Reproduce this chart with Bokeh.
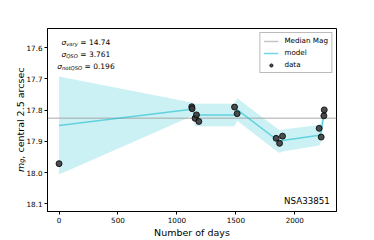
import math
from bokeh.plotting import figure
from bokeh.models import Range1d, FixedTicker, Label
from bokeh.embed import file_html
from bokeh.resources import INLINE

# ---- data ----
days = [0, 1126, 1129, 1154, 1166, 1186, 1489, 1511, 1842, 1871, 1896, 2207, 2224, 2247, 2250]
mags = [17.971, 17.789, 17.795, 17.826, 17.815, 17.836, 17.790, 17.811, 17.890, 17.906,
        17.883, 17.858, 17.886, 17.818, 17.799]
model_mean = [17.849, 17.797, 17.798, 17.815, 17.815, 17.815, 17.815, 17.798, 17.893, 17.900,
              17.897, 17.880, 17.870, 17.812, 17.800]
model_err = [0.157, 0.022, 0.022, 0.036, 0.036, 0.036, 0.036, 0.036, 0.037, 0.037,
             0.035, 0.033, 0.030, 0.020, 0.020]
median_mag = 17.826
xticks = [0, 500, 1000, 1500, 2000]
yticks = [17.6, 17.7, 17.8, 17.9, 18.0, 18.1]
sigma_names = ["vary", "QSO", "notQSO"]
sigma_values = ["14.74", "3.761", "0.196"]
object_name = "NSA33851"

FONT = "DejaVu Sans"
X0, X1 = -98, 2354
Y0, Y1 = 18.1241, 17.5386  # bottom, top (inverted axis)

W, H = 374, 240
ML, MR, MT, MB = 47, 38, 28, 27

p = figure(width=W, height=H, x_range=Range1d(X0, X1), y_range=Range1d(Y0, Y1),
           output_backend="svg", toolbar_location=None,
           min_border_left=ML, min_border_right=MR, min_border_top=MT, min_border_bottom=MB)

fw = W - ML - MR
fh = H - MT - MB


def px(xp):  # canvas x -> data x
    return X0 + (xp - ML) / fw * (X1 - X0)


def py(yp):  # canvas y -> data y
    return Y1 + (yp - MT) / fh * (Y0 - Y1)


lo = [m - e for m, e in zip(model_mean, model_err)]
hi = [m + e for m, e in zip(model_mean, model_err)]

p.varea(x=days, y1=lo, y2=hi, fill_color="#17becf", fill_alpha=0.22)

p.line(x=[p.x_range.start, p.x_range.end], y=[median_mag, median_mag], line_color="#a0a0a0",
       line_alpha=0.6, line_width=1.5, legend_label="Median Mag")
p.line(x=days, y=model_mean, line_color="#17becf", line_alpha=0.6, line_width=1.5,
       legend_label="model")
p.scatter(x=days, y=mags, size=6, fill_color="#3a3a3a", fill_alpha=0.9,
          line_color="black", line_width=0.8, legend_label="data")

# axes
p.xgrid.visible = False
p.ygrid.visible = False
p.outline_line_color = "black"
p.outline_line_width = 1
p.outline_line_alpha = 1
for ax in (p.xaxis[0], p.yaxis[0]):
    ax.axis_line_color = "black"
    ax.major_tick_line_color = "black"
    ax.minor_tick_line_color = None
    ax.major_tick_in = 0
    ax.major_tick_out = 3
    ax.major_label_standoff = 2
    ax.major_label_text_font = FONT
    ax.major_label_text_font_size = "7.2px"
    ax.major_label_text_color = "black"
p.xaxis.ticker = FixedTicker(ticks=xticks)
p.yaxis.ticker = FixedTicker(ticks=yticks)
p.yaxis.major_label_overrides = {v: f"{v:.1f}" for v in yticks}

p.xaxis.axis_label = "Number of days"
p.xaxis.axis_label_text_font = FONT
p.xaxis.axis_label_text_font_size = "9.5px"
p.xaxis.axis_label_text_font_style = "normal"
p.xaxis.axis_label_text_color = "black"
p.xaxis.axis_label_standoff = 1

# y-axis label (rotated, m_g italic with subscript); placed in the roomy right panel
# so it is not clipped, positioned through the data scales
rot = math.pi / 2
base_x = 19.7
ystart = 173.0
p.add_layout(Label(x=px(base_x), y=py(ystart), text="m",
                   text_font=FONT, text_font_style="italic", text_font_size="9.5px", angle=rot,
                   text_align="left", text_baseline="alphabetic", text_color="black"), "right")
p.add_layout(Label(x=px(base_x + 1.8), y=py(ystart - 9.25),
                   text="g", text_font=FONT, text_font_style="italic", text_font_size="6.65px",
                   angle=rot, text_align="left", text_baseline="alphabetic",
                   text_color="black"), "right")
p.add_layout(Label(x=px(base_x), y=py(ystart - 13.45),
                   text=", central 2.5 arcsec", text_font=FONT, text_font_size="9.5px",
                   angle=rot, text_align="left", text_baseline="alphabetic",
                   text_color="black"), "right")

# sigma annotations
sub_w = {"vary": 11.6, "QSO": 11.6, "notQSO": 20.2}
centre = 85.4
baselines = [42.0, 54.4, 66.0]
for name, val, yb in zip(sigma_names, sigma_values, baselines):
    total = 4.75 + sub_w[name] + 32.5
    x0 = centre - total / 2
    p.add_layout(Label(x=px(x0), y=py(yb), text="σ", text_font=FONT, text_font_style="italic",
                       text_font_size="7.5px", text_align="left", text_baseline="alphabetic",
                       text_color="black"))
    p.add_layout(Label(x=px(x0 + 4.75), y=py(yb + 1.6), text=name, text_font=FONT,
                       text_font_style="italic", text_font_size="5.25px", text_align="left",
                       text_baseline="alphabetic", text_color="black"))
    p.add_layout(Label(x=px(x0 + 4.75 + sub_w[name] + 2.4), y=py(yb), text="= " + val,
                       text_font=FONT, text_font_size="7.5px", text_align="left",
                       text_baseline="alphabetic", text_color="black"))

# object name
p.add_layout(Label(x=px(329.3), y=py(202.7), text=object_name, text_font=FONT,
                   text_font_size="8.7px", text_align="right", text_baseline="middle",
                   text_color="black"))

# legend
lg = p.legend[0]
lg.location = "top_right"
lg.margin = 4
lg.padding = 3
lg.spacing = 3
lg.label_standoff = 6
lg.glyph_width = 15
lg.glyph_height = 8
lg.label_height = 8
lg.label_text_font = FONT
lg.label_text_font_size = "7.2px"
lg.label_text_color = "black"
lg.border_line_color = "#bbbbbb"
lg.border_line_width = 1
lg.border_line_alpha = 1
lg.background_fill_alpha = 0.8

open("out.html", "w").write(file_html(p, INLINE))
